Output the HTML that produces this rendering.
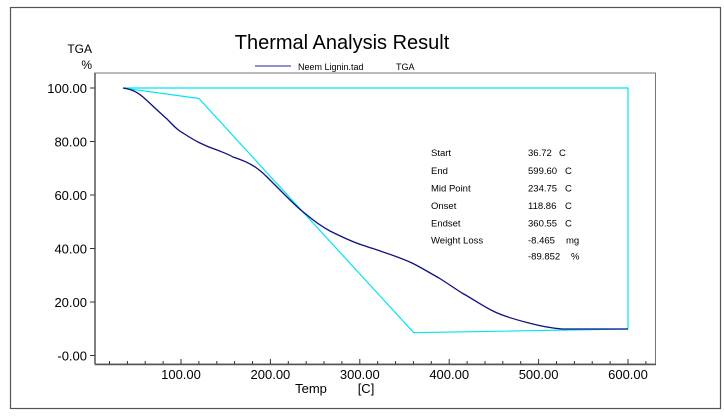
<!DOCTYPE html>
<html><head><meta charset="utf-8"><style>
body{margin:0;background:#fff;width:724px;height:413px;overflow:hidden}
text{font-family:"Liberation Sans",Arial,sans-serif;fill:#000}
</style></head><body>
<svg width="724" height="413" viewBox="0 0 724 413" xmlns="http://www.w3.org/2000/svg">
<rect x="10.5" y="7.5" width="710" height="401" fill="none" stroke="#555" stroke-width="1.2"/>
<text x="342" y="49" font-size="20" text-anchor="middle">Thermal Analysis Result</text>
<line x1="255" y1="66" x2="291" y2="66" stroke="#5050b0" stroke-width="1.2"/>
<text x="298" y="70" font-size="9">Neem Lignin.tad</text>
<text x="396" y="70" font-size="9">TGA</text>
<text x="92" y="53" font-size="12" text-anchor="end">TGA</text>
<text x="92" y="69" font-size="12" text-anchor="end">%</text>
<rect x="95" y="73" width="560.5" height="291" fill="none" stroke="#777" stroke-width="1"/>
<line x1="95" y1="73" x2="95" y2="364.5" stroke="#555" stroke-width="1.5"/>
<line x1="95" y1="364.5" x2="656" y2="364.5" stroke="#555" stroke-width="1.5"/>
<g stroke="#333" stroke-width="1">
<line x1="90" y1="88" x2="95" y2="88"/><line x1="90" y1="141.5" x2="95" y2="141.5"/>
<line x1="90" y1="195" x2="95" y2="195"/><line x1="90" y1="248.5" x2="95" y2="248.5"/>
<line x1="90" y1="302" x2="95" y2="302"/><line x1="90" y1="355.5" x2="95" y2="355.5"/>
</g>
<g font-size="13" text-anchor="end">
<text x="87" y="93">100.00</text><text x="87" y="146.5">80.00</text>
<text x="87" y="200">60.00</text><text x="87" y="253.5">40.00</text>
<text x="87" y="307">20.00</text><text x="87" y="360.5">-0.00</text>
</g>
<g stroke="#333" stroke-width="1">
<line x1="109.5" y1="364" x2="109.5" y2="361"/><line x1="127.4" y1="364" x2="127.4" y2="361"/><line x1="145.2" y1="364" x2="145.2" y2="361"/><line x1="163.1" y1="364" x2="163.1" y2="361"/><line x1="181" y1="364" x2="181" y2="359"/>
<line x1="198.9" y1="364" x2="198.9" y2="361"/><line x1="216.8" y1="364" x2="216.8" y2="361"/><line x1="234.6" y1="364" x2="234.6" y2="361"/><line x1="252.5" y1="364" x2="252.5" y2="361"/><line x1="270.4" y1="364" x2="270.4" y2="359"/>
<line x1="288.3" y1="364" x2="288.3" y2="361"/><line x1="306.2" y1="364" x2="306.2" y2="361"/><line x1="324" y1="364" x2="324" y2="361"/><line x1="341.9" y1="364" x2="341.9" y2="361"/><line x1="359.8" y1="364" x2="359.8" y2="359"/>
<line x1="377.7" y1="364" x2="377.7" y2="361"/><line x1="395.6" y1="364" x2="395.6" y2="361"/><line x1="413.4" y1="364" x2="413.4" y2="361"/><line x1="431.3" y1="364" x2="431.3" y2="361"/><line x1="449.2" y1="364" x2="449.2" y2="359"/>
<line x1="467.1" y1="364" x2="467.1" y2="361"/><line x1="485" y1="364" x2="485" y2="361"/><line x1="502.8" y1="364" x2="502.8" y2="361"/><line x1="520.7" y1="364" x2="520.7" y2="361"/><line x1="538.6" y1="364" x2="538.6" y2="359"/>
<line x1="556.5" y1="364" x2="556.5" y2="361"/><line x1="574.4" y1="364" x2="574.4" y2="361"/><line x1="592.2" y1="364" x2="592.2" y2="361"/><line x1="610.1" y1="364" x2="610.1" y2="361"/><line x1="628" y1="364" x2="628" y2="359"/>
<line x1="645.9" y1="364" x2="645.9" y2="361"/>
</g>
<g font-size="13" text-anchor="middle">
<text x="181" y="379">100.00</text><text x="270.4" y="379">200.00</text><text x="359.8" y="379">300.00</text>
<text x="449.2" y="379">400.00</text><text x="538.6" y="379">500.00</text><text x="628" y="379">600.00</text>
</g>
<text x="311" y="393" font-size="13" text-anchor="middle">Temp</text>
<text x="366" y="393" font-size="13" text-anchor="middle">[C]</text>
<g fill="none" stroke="#00e5f0" stroke-width="1.2">
<polyline points="124.4,88 628,88 628,329"/>
<polyline points="123,88 198.9,98.5 413.7,332.7 628,329"/>
</g>
<path fill="none" stroke="#101080" stroke-width="1.3" stroke-linejoin="round" d="M123,88 C130,89 136,91 143,97 C152,105 159,112 167,119 C173,125 177,130 183,133 C189,137 194,140 200,143 C206,146 211,148 217,150 C222,152 228,154 233,157 C239,159 245,161 250,164 C256,167 261,171 267,177 C274,184 280,190 287,197 C294,204 300,210 307,215 C314,221 321,226 330,231 C340,236 350,241 362,245 C380,251 397,256 412,263 C422,268 430,273 439,278 C447,283 454,288 462,293 C473,299 484,307 495,312 C506,317 517,320 529,323 C540,326 550,328 562,329 L628,329"/>
<g font-size="9.5">
<text x="431" y="156">Start</text><text x="528" y="156">36.72</text><text x="559" y="156">C</text>
<text x="431" y="174">End</text><text x="528" y="174">599.60</text><text x="565" y="174">C</text>
<text x="431" y="191.5">Mid Point</text><text x="528" y="191.5">234.75</text><text x="565" y="191.5">C</text>
<text x="431" y="209">Onset</text><text x="528" y="209">118.86</text><text x="565" y="209">C</text>
<text x="431" y="226.5">Endset</text><text x="528" y="226.5">360.55</text><text x="565" y="226.5">C</text>
<text x="431" y="243.5">Weight Loss</text><text x="528" y="243.5">-8.465</text><text x="566" y="243.5">mg</text>
<text x="528" y="259.5">-89.852</text><text x="571" y="259.5">%</text>
</g>
</svg>
</body></html>
